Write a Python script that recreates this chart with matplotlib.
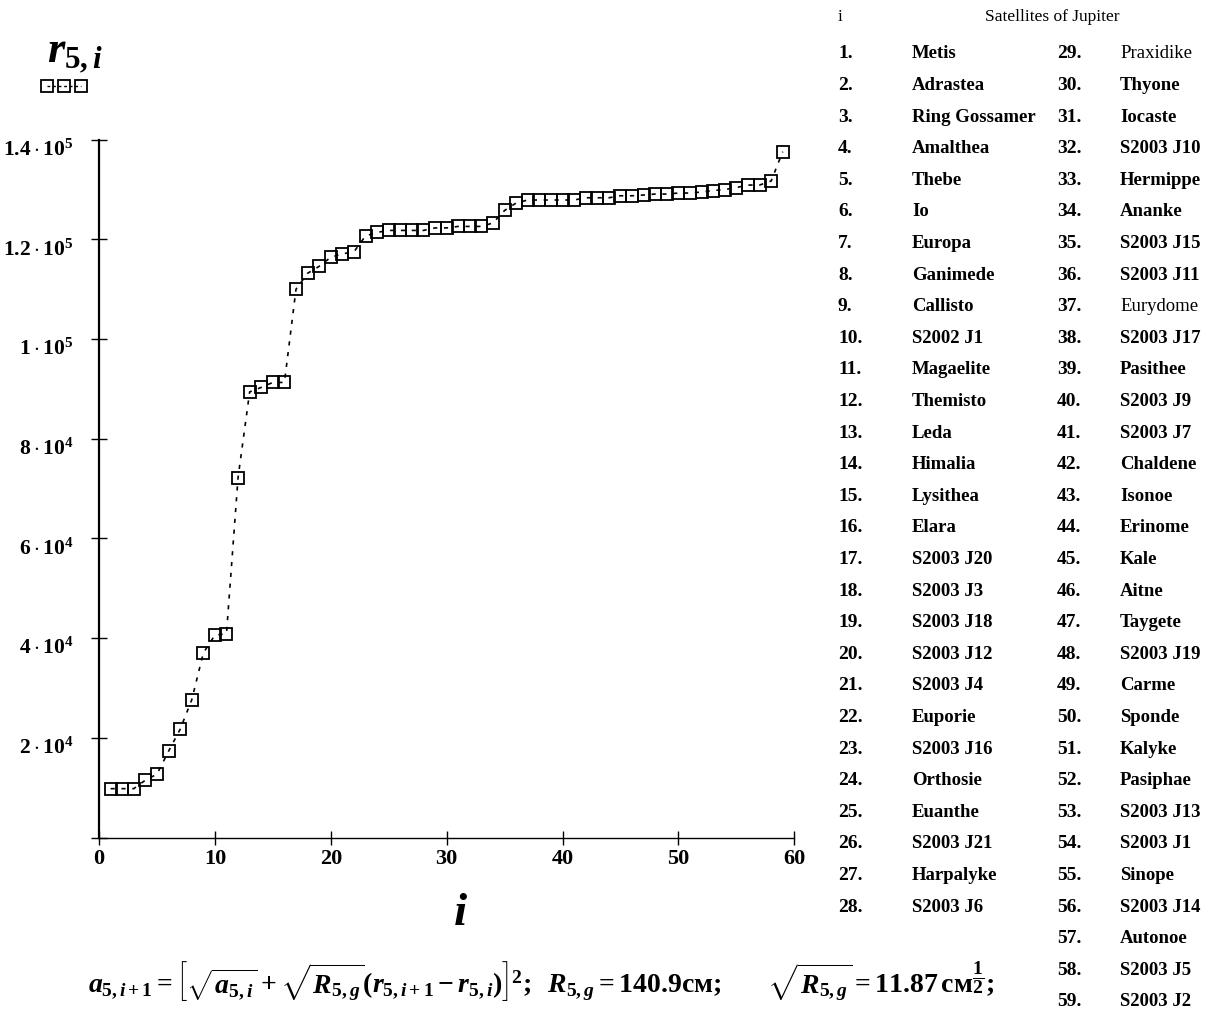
import numpy as np
import matplotlib
matplotlib.use("Agg")
import matplotlib.pyplot as plt
import matplotlib.transforms as mtransforms
from matplotlib.lines import Line2D

plt.rcParams['font.family'] = ['Liberation Serif', 'DejaVu Serif']
plt.rcParams['mathtext.fontset'] = 'custom'
plt.rcParams['mathtext.rm'] = 'Liberation Serif:bold'
plt.rcParams['mathtext.it'] = 'Liberation Serif:italic:bold'
plt.rcParams['mathtext.bf'] = 'Liberation Serif:bold'

# --- data ---
sat_index = list(range(1, 60))
r5 = [9800, 9800, 9800, 11500, 12700, 17300, 21700, 27600, 37000, 40600,
      40900, 72200, 89400, 90300, 91300, 91300, 110000, 113200, 114600, 116400,
      117100, 117500, 120700, 121400, 121800, 121800, 121800, 121800, 122300, 122300,
      122600, 122600, 122600, 123300, 125800, 127300, 127900, 127900, 127900, 127900,
      127900, 128350, 128350, 128350, 128750, 128750, 128900, 129100, 129100, 129300,
      129300, 129500, 129800, 130000, 130400, 130900, 130900, 131700, 137600]

satellites = ["Metis", "Adrastea", "Ring Gossamer", "Amalthea", "Thebe", "Io", "Europa",
              "Ganimede", "Callisto", "S2002 J1", "Magaelite", "Themisto", "Leda", "Himalia",
              "Lysithea", "Elara", "S2003 J20", "S2003 J3", "S2003 J18", "S2003 J12",
              "S2003 J4", "Euporie", "S2003 J16", "Orthosie", "Euanthe", "S2003 J21",
              "Harpalyke", "S2003 J6", "Praxidike", "Thyone", "Iocaste", "S2003 J10",
              "Hermippe", "Ananke", "S2003 J15", "S2003 J11", "Eurydome", "S2003 J17",
              "Pasithee", "S2003 J9", "S2003 J7", "Chaldene", "Isonoe", "Erinome", "Kale",
              "Aitne", "Taygete", "S2003 J19", "Carme", "Sponde", "Kalyke", "Pasiphae",
              "S2003 J13", "S2003 J1", "Sinope", "S2003 J14", "Autonoe", "S2003 J5",
              "S2003 J2"]
light_names = ["Praxidike", "Eurydome"]

xtick_vals = [0, 10, 20, 30, 40, 50, 60]
xtick_labels = ["0", "10", "20", "30", "40", "50", "60"]
ytick_vals = [0, 20000, 40000, 60000, 80000, 100000, 120000, 140000]
ytick_labels = ["", r"$2\cdot10^{4}$", r"$4\cdot10^{4}$", r"$6\cdot10^{4}$",
                r"$8\cdot10^{4}$", r"$1\cdot10^{5}$", r"$1.2\cdot10^{5}$", r"$1.4\cdot10^{5}$"]

formula = (r"$a_{5,i+1}=\left[\sqrt{a_{5,i}}+\sqrt{R_{5,g}}(r_{5,i+1}-r_{5,i})\right]^{2};\;\;"
           r"R_{5,g}=\mathrm{140.9см};\;\;\;\;\;\;\;\sqrt{R_{5,g}}=\mathrm{11.87\,см}^{\dfrac{1}{2}};$")


def main():
    W, H = 1227, 1020
    fig = plt.figure(figsize=(W / 100, H / 100), dpi=100)
    ax = fig.add_axes([99 / W, 1 - 838.5 / H, 695.3 / W, 697.8 / H])

    ax.plot(sat_index, r5, color='black', linestyle=(0, (2.5, 4)), linewidth=1.2,
            marker='s', markersize=9, markerfacecolor='none', markeredgecolor='black',
            markeredgewidth=1.3, clip_on=False)

    ax.set_xlim(0, 60)
    ax.set_ylim(0, 140000)
    for s in ['top', 'right']:
        ax.spines[s].set_visible(False)
    ax.spines['left'].set_linewidth(1.6)
    ax.spines['bottom'].set_linewidth(1.0)

    ax.set_xticks(xtick_vals, xtick_labels)
    ax.set_yticks(ytick_vals, ytick_labels)
    ax.tick_params(axis='x', direction='inout', length=9.5, width=1.0, labelsize=16, pad=3)
    ax.tick_params(axis='y', direction='inout', length=11.5, width=1.0, labelsize=15.5, pad=13)
    for lbl in ax.get_xticklabels():
        lbl.set_fontweight('bold')
    # y labels sit a little below their ticks in the original
    shift = mtransforms.ScaledTranslation(0, -0.07, fig.dpi_scale_trans)
    for lbl in ax.get_yticklabels():
        lbl.set_transform(lbl.get_transform() + shift)

    # axis labels, Mathcad style
    fig.text(460 / W, 1 - 925 / H, r"$i$", fontsize=34, ha='center', va='baseline')
    fig.text(47 / W, 1 - 62 / H, r"$r_{5,i}$", fontsize=32, ha='left', va='baseline')
    leg = Line2D([47 / W, 64 / W, 81 / W], [1 - 87 / H] * 3, transform=fig.transFigure,
                 color='black', linestyle=(0, (2, 2)), linewidth=1.0, marker='s',
                 markersize=8, markerfacecolor='none', markeredgecolor='black',
                 markeredgewidth=1.3)
    fig.add_artist(leg)

    # satellites table
    fig.text(838 / W, 1 - 17 / H, "i", fontsize=12.5, va='center', ha='left')
    fig.text(1052 / W, 1 - 17 / H, "Satellites of Jupiter", fontsize=12.5,
             va='center', ha='center')
    row_h = 31.6
    for k, name in enumerate(satellites):
        num = k + 1
        if num <= 28:
            x_num, x_name, y = 838, 912, 54 + k * row_h
        else:
            x_num, x_name, y = 1057, 1120, 54 + (k - 28) * row_h
        weight = 'normal' if name in light_names else 'bold'
        fig.text(x_num / W, 1 - y / H, f"{num}.", fontsize=14, fontweight='bold',
                 va='center', ha='left')
        fig.text(x_name / W, 1 - y / H, name, fontsize=13.5, fontweight=weight,
                 va='center', ha='left')

    fig.text(88 / W, 1 - 993 / H, formula, fontsize=20, ha='left', va='baseline')

    fig.savefig("out.png", dpi=100)


if __name__ == "__main__":
    main()
